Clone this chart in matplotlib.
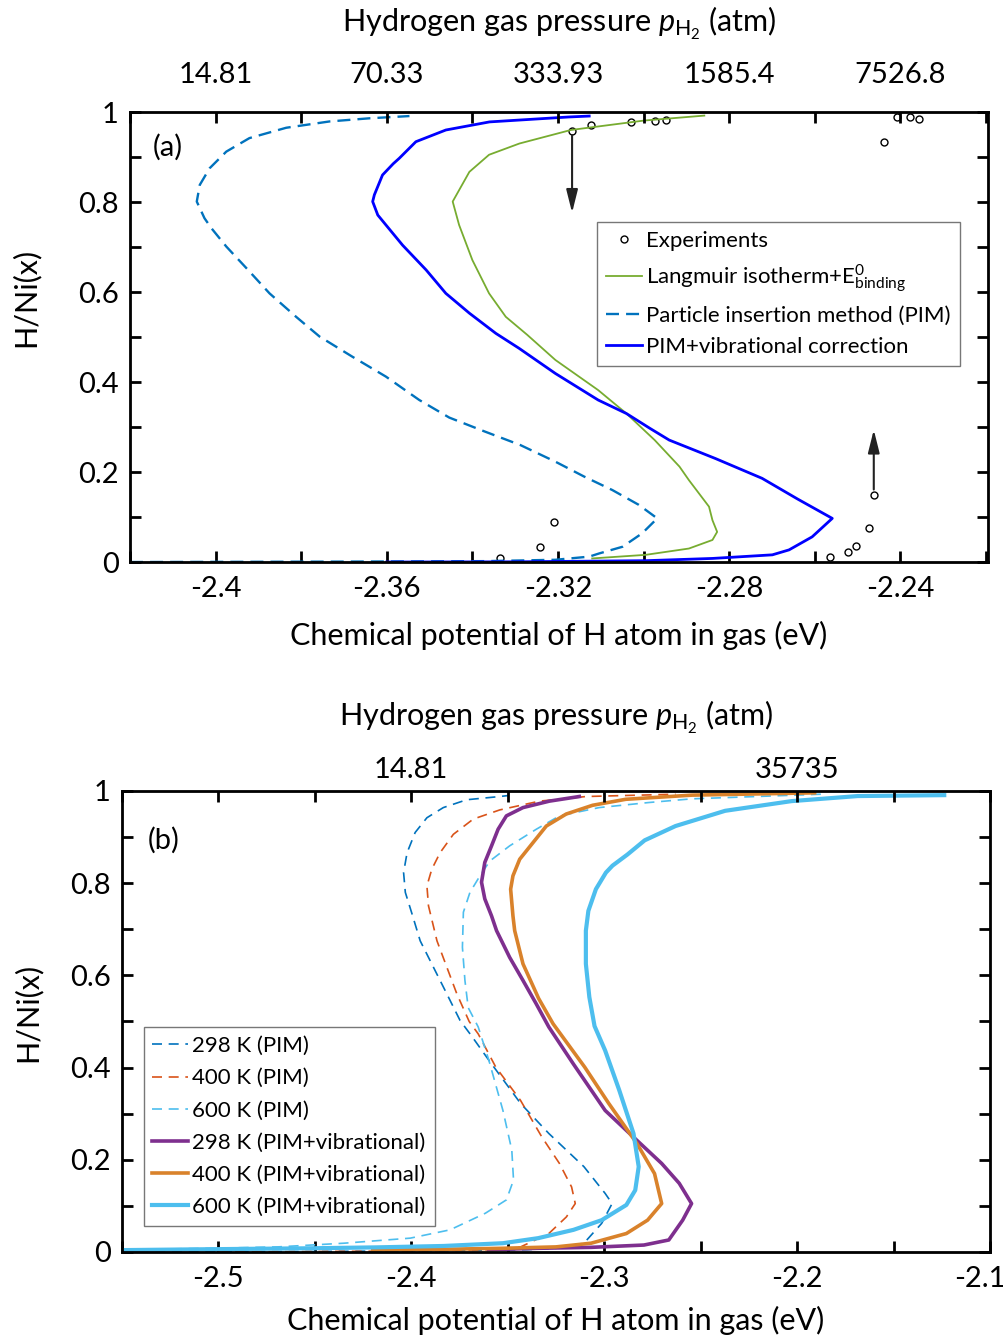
import numpy as np
import matplotlib
matplotlib.use('Agg')
import matplotlib.pyplot as plt
import matplotlib.transforms as mtransforms

plt.rcParams['font.family'] = ['Lato', 'DejaVu Sans']
plt.rcParams['mathtext.fontset'] = 'custom'
plt.rcParams['mathtext.rm'] = 'Lato'
plt.rcParams['mathtext.it'] = 'Lato:italic'
plt.rcParams['axes.unicode_minus'] = False

# ---------------- panel (a) data ----------------
pim_x = [-2.42, -2.37, -2.337, -2.3206, -2.3127, -2.3104, -2.3049, -2.3003, -2.2968, -2.3011,
         -2.3073, -2.3139, -2.3206, -2.3288, -2.3371, -2.3454, -2.3524, -2.3602, -2.368, -2.3757,
         -2.3812, -2.3874, -2.3928, -2.3975, -2.401, -2.4026, -2.4044, -2.4037, -2.4014, -2.3975,
         -2.3921, -2.3835, -2.3734, -2.3641, -2.3547]
pim_y = [0.0, 0.001, 0.002, 0.005, 0.012, 0.019, 0.034, 0.064, 0.097, 0.127,
         0.16, 0.19, 0.223, 0.26, 0.29, 0.321, 0.36, 0.412, 0.456, 0.501,
         0.545, 0.597, 0.653, 0.701, 0.742, 0.764, 0.801, 0.838, 0.875, 0.912,
         0.942, 0.965, 0.979, 0.986, 0.991]

vib_x = [-2.36, -2.33, -2.2995, -2.2839, -2.2699, -2.266, -2.2606, -2.2559, -2.264, -2.2723,
         -2.2832, -2.294, -2.2985, -2.304, -2.3106, -2.3206, -2.3291, -2.3345, -2.3407, -2.3462,
         -2.3508, -2.3563, -2.3602, -2.3621, -2.3633, -2.3629, -2.361, -2.3585, -2.3571, -2.3532,
         -2.3462, -2.336, -2.3174, -2.3127]
vib_y = [0.0, 0.0005, 0.003, 0.008, 0.016, 0.027, 0.056, 0.097, 0.14, 0.186,
         0.23, 0.271, 0.297, 0.33, 0.36, 0.419, 0.475, 0.508, 0.553, 0.597,
         0.649, 0.704, 0.749, 0.771, 0.801, 0.816, 0.86, 0.885, 0.897, 0.934,
         0.96, 0.978, 0.989, 0.991]

lang_x = [-2.312, -2.2995, -2.2894, -2.2839, -2.2828, -2.2839, -2.2847, -2.2894, -2.2916, -2.2974,
          -2.304, -2.3106, -2.3206, -2.3272, -2.3322, -2.3361, -2.34, -2.3431, -2.3446, -2.3407,
          -2.3361, -2.329, -2.317, -2.2999, -2.2858]
lang_y = [0.008, 0.016, 0.030, 0.049, 0.067, 0.093, 0.123, 0.182, 0.212, 0.271,
          0.330, 0.382, 0.449, 0.505, 0.545, 0.597, 0.671, 0.749, 0.801, 0.867,
          0.905, 0.93, 0.960, 0.981, 0.992]

exp_x = [-2.3167, -2.3123, -2.3029, -2.2973, -2.2947, -2.2408, -2.2378, -2.2357, -2.2439,
         -2.3335, -2.3242, -2.3209, -2.2565, -2.2523, -2.2504, -2.2474, -2.2462]
exp_y = [0.958, 0.971, 0.978, 0.980, 0.982, 0.989, 0.989, 0.984, 0.933,
         0.009, 0.033, 0.089, 0.011, 0.022, 0.036, 0.076, 0.149]

top_a_pos = [-2.40, -2.36, -2.32, -2.28, -2.24]
top_a_lab = ['14.81', '70.33', '333.93', '1585.4', '7526.8']

# ---------------- panel (b) data ----------------
p298_x = [-2.55, -2.45, -2.38, -2.34, -2.325, -2.3105, -2.3013, -2.2959, -2.2995, -2.3105,
          -2.3287, -2.3433, -2.3598, -2.369, -2.3747, -2.3816, -2.3876, -2.3954, -2.3996, -2.4031,
          -2.404, -2.4022, -2.398, -2.3919, -2.3834, -2.3713, -2.3541, -2.35]
p298_y = [0.0, 0.001, 0.003, 0.005, 0.008, 0.019, 0.062, 0.105, 0.127, 0.185,
          0.257, 0.322, 0.416, 0.47, 0.502, 0.56, 0.61, 0.675, 0.733, 0.78,
          0.823, 0.866, 0.910, 0.942, 0.964, 0.981, 0.988, 0.99]

p400_x = [-2.50, -2.40, -2.36, -2.3433, -2.3287, -2.3196, -2.315, -2.3169, -2.3232, -2.3324,
          -2.3434, -2.3562, -2.3653, -2.370, -2.3764, -2.3816, -2.3867, -2.3911, -2.3919, -2.3894,
          -2.3851, -2.3782, -2.3679, -2.3541, -2.3335, -2.3094, -2.263]
p400_y = [0.0, 0.002, 0.005, 0.011, 0.040, 0.076, 0.105, 0.141, 0.192, 0.25,
          0.329, 0.401, 0.473, 0.50, 0.56, 0.618, 0.675, 0.751, 0.794, 0.830,
          0.866, 0.906, 0.939, 0.959, 0.978, 0.988, 0.993]

p600_x = [-2.55, -2.5036, -2.4692, -2.4349, -2.4005, -2.3799, -2.3616, -2.3507, -2.347, -2.3479,
          -2.3525, -2.3598, -2.3653, -2.3705, -2.3722, -2.3735, -2.373, -2.3696, -2.3644, -2.3593,
          -2.349, -2.3352, -2.3232, -2.3026, -2.2768, -2.2545, -2.1876]
p600_y = [0.005, 0.008, 0.011, 0.019, 0.030, 0.048, 0.084, 0.113, 0.156, 0.221,
          0.307, 0.416, 0.488, 0.53, 0.589, 0.661, 0.737, 0.780, 0.816, 0.848,
          0.881, 0.917, 0.946, 0.964, 0.975, 0.983, 0.993]

v298_x = [-2.36, -2.3342, -2.3068, -2.2794, -2.2665, -2.2593, -2.2547, -2.2611, -2.2702, -2.283,
          -2.2995, -2.316, -2.3287, -2.3352, -2.3421, -2.349, -2.3558, -2.3584, -2.3619, -2.3636,
          -2.3619, -2.3584, -2.355, -2.3507, -2.3421, -2.3284, -2.3129]
v298_y = [0.005, 0.008, 0.010, 0.015, 0.026, 0.069, 0.105, 0.149, 0.192, 0.242,
          0.307, 0.408, 0.488, 0.538, 0.589, 0.639, 0.697, 0.729, 0.766, 0.802,
          0.845, 0.881, 0.917, 0.946, 0.964, 0.978, 0.988]

v400_x = [-2.42, -2.3799, -2.3525, -2.325, -2.3068, -2.2885, -2.2775, -2.2702, -2.2739, -2.283,
          -2.2976, -2.3101, -2.3265, -2.334, -2.3421, -2.3464, -2.3473, -2.3485, -2.3473, -2.3438,
          -2.3369, -2.33, -2.3197, -2.306, -2.2888, -2.2545, -2.1909]
v400_y = [0.004, 0.006, 0.008, 0.011, 0.019, 0.040, 0.069, 0.105, 0.170, 0.235,
          0.322, 0.401, 0.495, 0.55, 0.625, 0.697, 0.729, 0.787, 0.816, 0.852,
          0.888, 0.924, 0.95, 0.969, 0.982, 0.991, 0.996]

v600_x = [-2.55, -2.5036, -2.4521, -2.4177, -2.3833, -2.3525, -2.3342, -2.3159, -2.3013, -2.2885,
          -2.2839, -2.2821, -2.2848, -2.2922, -2.2995, -2.305, -2.3077, -2.3095, -2.3095, -2.3082,
          -2.3043, -2.2991, -2.2957, -2.288, -2.279, -2.263, -2.2373, -2.2029, -2.1686, -2.1237]
v600_y = [0.004, 0.006, 0.008, 0.010, 0.013, 0.019, 0.030, 0.048, 0.069, 0.102,
          0.134, 0.185, 0.257, 0.351, 0.437, 0.49, 0.553, 0.625, 0.697, 0.74,
          0.787, 0.823, 0.838, 0.862, 0.893, 0.924, 0.957, 0.978, 0.989, 0.991]

top_b_pos = [-2.4, -2.2]
top_b_lab = ['14.81', '35735']

TICK_FS = 21
LAB_FS = 22
LEG_FS = 16


def style_axes(ax, xlim, xstep, xlabeled, top_pos, top_lab, top_pad, title_pad, xlab_pad, ylab_xy):
    ax.set_xlim(*xlim)
    ax.set_ylim(0, 1)
    xt = np.arange(xlim[0], xlim[1] + 1e-9, xstep)
    ax.set_xticks(xt)
    ax.set_xticklabels([('%g' % v) if any(abs(v - l) < 1e-6 for l in xlabeled) else '' for v in xt])
    yt = np.arange(0, 1.0001, 0.1)
    ax.set_yticks(yt)
    ax.set_yticklabels([('%g' % v) if i % 2 == 0 else '' for i, v in enumerate(yt)])
    ax.tick_params(direction='in', length=8, width=2, labelsize=TICK_FS, right=True, top=False)
    ax.tick_params(axis='x', pad=10)
    ax.tick_params(axis='y', pad=8)
    for s in ax.spines.values():
        s.set_linewidth(2)
    ax.set_ylabel('H/Ni(x)', fontsize=LAB_FS)
    ax.yaxis.set_label_coords(*ylab_xy)
    ax.set_xlabel('Chemical potential of H atom in gas (eV)', fontsize=LAB_FS, labelpad=xlab_pad)
    ax2 = ax.twiny()
    ax2.set_xlim(*xlim)
    ax2.set_xticks(xt)
    labs = []
    for v in xt:
        lab = ''
        for p, l in zip(top_pos, top_lab):
            if abs(v - p) < 1e-6:
                lab = l
        labs.append(lab)
    ax2.set_xticklabels(labs)
    ax2.tick_params(direction='in', length=8, width=2, labelsize=TICK_FS, pad=top_pad)
    ax2.set_xlabel(r'Hydrogen gas pressure $p_{\mathrm{H}_2}$ (atm)', fontsize=LAB_FS, labelpad=title_pad)
    return ax2


fig = plt.figure(figsize=(10.04, 13.35), dpi=100)

# ---------------- (a) ----------------
ax = fig.add_axes([0.1295, 0.579, 0.8546, 0.3371])
ax.plot(exp_x, exp_y, 'o', mfc='none', mec='k', ms=5, mew=1, label='Experiments')
ax.plot(lang_x, lang_y, '-', color='#77AC30', lw=1.3, label=r'Langmuir isotherm+E$^{0}_{\mathrm{binding}}$')
ax.plot(pim_x, pim_y, '--', color='#0072BD', lw=1.7, dashes=(5.5, 3), label='Particle insertion method (PIM)')
ax.plot(vib_x, vib_y, '-', color='#0000FF', lw=2, label='PIM+vibrational correction')
ax.annotate('', xy=(-2.3167, 0.77), xytext=(-2.3167, 0.955),
            arrowprops=dict(arrowstyle='-|>,head_length=1.4,head_width=0.35', color='#222222', lw=1.5))
ax.annotate('', xy=(-2.2462, 0.30), xytext=(-2.2462, 0.155),
            arrowprops=dict(arrowstyle='-|>,head_length=1.4,head_width=0.35', color='#222222', lw=1.5))
style_axes(ax, (-2.42, -2.2195), 0.02, top_a_pos, top_a_pos, top_a_lab, 17, 22, 14, (-0.105, 0.589))
ax.text(0.027, 0.922, '(a)', transform=ax.transAxes, fontsize=TICK_FS, va='center')
leg = ax.legend(loc='upper right', bbox_to_anchor=(0.98, 0.78), fontsize=LEG_FS, fancybox=False,
                edgecolor='#555555', handlelength=1.6, handletextpad=0.2, borderpad=0.4, labelspacing=0.5)
leg.get_frame().set_linewidth(1)

# ---------------- (b) ----------------
bx = fig.add_axes([0.1215, 0.0622, 0.8645, 0.3453])
bx.plot(p298_x, p298_y, '--', color='#0072BD', lw=1.2, dashes=(6, 4), label='298 K (PIM)')
bx.plot(p400_x, p400_y, '--', color='#D95319', lw=1.2, dashes=(6, 4), label='400 K (PIM)')
bx.plot(p600_x, p600_y, '--', color='#4DBEEE', lw=1.2, dashes=(6, 4), label='600 K (PIM)')
bx.plot(v298_x, v298_y, '-', color='#7E2F8E', lw=2.6, label='298 K (PIM+vibrational)')
bx.plot(v400_x, v400_y, '-', color='#D9822B', lw=2.6, label='400 K (PIM+vibrational)')
bx.plot(v600_x, v600_y, '-', color='#4DBEEE', lw=3, label='600 K (PIM+vibrational)')
style_axes(bx, (-2.55, -2.1), 0.05, [-2.5, -2.4, -2.3, -2.2, -2.1], top_b_pos, top_b_lab, 6, 22, 10,
           (-0.092, 0.519))
bx.text(0.03, 0.892, '(b)', transform=bx.transAxes, fontsize=TICK_FS, va='center')
leg = bx.legend(loc='lower left', bbox_to_anchor=(0.012, 0.032), fontsize=LEG_FS, fancybox=False,
                edgecolor='#555555', handlelength=1.6, handletextpad=0.2, borderpad=0.4, labelspacing=0.55)
leg.get_frame().set_linewidth(1)

# last bottom label sits on the figure edge: nudge it inwards a little
last = bx.get_xticklabels()[-1]
last.set_transform(last.get_transform() + mtransforms.ScaledTranslation(-0.1, 0, fig.dpi_scale_trans))

fig.savefig('out.png', dpi=100)
